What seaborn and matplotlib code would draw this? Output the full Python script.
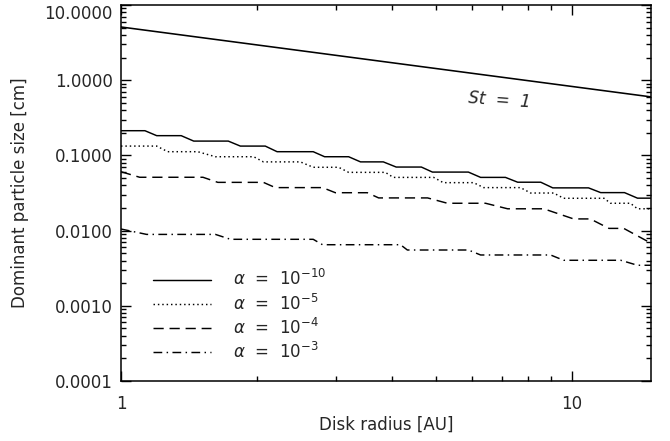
# Dominant particle size vs disk radius for several turbulence strengths

import numpy as np
import pandas as pd
import matplotlib
matplotlib.use('Agg')
import matplotlib.pyplot as plt
import matplotlib.ticker as mticker
import seaborn as sns

sns.set_style('ticks')
plt.rcParams['font.family'] = ['DejaVu Sans']
plt.rcParams['mathtext.fontset'] = 'dejavusans'

# Stokes number = 1 line (straight in log-log)
r_st = [1.0, 15.0]
a_st = [5.1, 0.6]

# alpha = 1e-10 (solid)
r_a10 = [1.00, 1.13, 1.20, 1.36, 1.45, 1.73, 1.84, 2.09, 2.22, 2.67, 2.83, 3.20, 3.40, 3.82,
         4.08, 4.64, 4.91, 5.90, 6.28, 7.13, 7.59, 8.54, 9.08, 10.9, 11.6, 13.1, 14.0, 15.0]
a_a10 = [0.213, 0.213, 0.183, 0.183, 0.155, 0.155, 0.133, 0.133, 0.112, 0.112, 0.096, 0.096,
         0.082, 0.082, 0.070, 0.070, 0.060, 0.060, 0.051, 0.051, 0.044, 0.044, 0.037, 0.037,
         0.032, 0.032, 0.027, 0.027]

# alpha = 1e-5 (dotted)
r_a5 = [1.00, 1.20, 1.27, 1.48, 1.62, 1.97, 2.07, 2.50, 2.67, 3.04, 3.20, 3.86, 4.02, 4.94,
        5.19, 6.06, 6.38, 7.70, 8.11, 9.12, 9.60, 11.8, 12.2, 13.5, 14.0, 15.0]
a_a5 = [0.133, 0.133, 0.112, 0.112, 0.096, 0.096, 0.082, 0.082, 0.0695, 0.0695, 0.0595, 0.0595,
        0.051, 0.051, 0.0434, 0.0434, 0.0373, 0.0373, 0.0316, 0.0316, 0.0269, 0.0269,
        0.0231, 0.0231, 0.0195, 0.0195]

# alpha = 1e-4 (dashed)
r_a4 = [1.00, 1.10, 1.52, 1.64, 2.07, 2.20, 2.80, 2.99, 3.52, 3.73, 4.79, 5.30, 6.44, 7.21,
        8.67, 10.1, 11.0, 12.1, 13.05, 15.0]
a_a4 = [0.0607, 0.0512, 0.0512, 0.0438, 0.0438, 0.0373, 0.0373, 0.0319, 0.0319, 0.0272, 0.0272,
        0.0231, 0.0231, 0.0195, 0.0195, 0.0143, 0.0143, 0.0107, 0.0107, 0.0068]

# alpha = 1e-3 (dash-dot)
r_a3 = [1.00, 1.14, 1.62, 1.75, 2.67, 2.80, 4.17, 4.32, 5.90, 6.28, 8.98, 9.60, 12.85, 14.0, 15.0]
a_a3 = [0.0105, 0.0089, 0.0089, 0.00766, 0.00766, 0.00649, 0.00649, 0.00552, 0.00552,
        0.00474, 0.00474, 0.00403, 0.00403, 0.00346, 0.00346]

series = [
    (r_a10, a_a10, '-', r'$\alpha$  =  10$^{-10}$'),
    (r_a5, a_a5, (0, (1, 2)), r'$\alpha$  =  10$^{-5}$'),
    (r_a4, a_a4, (0, (7, 4)), r'$\alpha$  =  10$^{-4}$'),
    (r_a3, a_a3, (0, (6, 3, 1, 3)), r'$\alpha$  =  10$^{-3}$'),
]

fig = plt.figure(figsize=(6.7, 4.41), dpi=100)
ax = fig.add_axes([121 / 670, 60 / 441, 530 / 670, 376 / 441])

# St = 1 reference line
st_df = pd.DataFrame({'r': r_st, 'a': a_st})
sns.lineplot(data=st_df, x='r', y='a', ax=ax, color='black', lw=1.15, sort=False)

handles = []
for r, a, ls, lab in series:
    df = pd.DataFrame({'r': r, 'a': a})
    sns.lineplot(data=df, x='r', y='a', ax=ax, color='black', lw=1.05,
                 linestyle=ls, sort=False)
    handles.append(ax.lines[-1])

ax.set_xscale('log')
ax.set_yscale('log')
ax.set_xlim(1, 15)
ax.set_ylim(1e-4, 10)

# ticks inward on all four sides
ax.xaxis.set_major_locator(mticker.FixedLocator([1, 10]))
ax.xaxis.set_major_formatter(mticker.FormatStrFormatter('%g'))
ax.xaxis.set_minor_locator(mticker.LogLocator(base=10, subs=np.arange(2, 10)))
ax.xaxis.set_minor_formatter(mticker.NullFormatter())
ax.yaxis.set_major_locator(mticker.LogLocator(base=10, numticks=10))
ax.yaxis.set_major_formatter(mticker.FormatStrFormatter('%.4f'))
ax.yaxis.set_minor_locator(mticker.LogLocator(base=10, subs=np.arange(2, 10), numticks=20))
ax.yaxis.set_minor_formatter(mticker.NullFormatter())
ax.tick_params(which='both', direction='in', top=True, right=True, width=1.0,
               labelsize=12, color='black')
ax.tick_params(which='major', length=7)
ax.tick_params(which='minor', length=3.5)
ax.tick_params(axis='x', which='major', pad=10)
ax.tick_params(axis='y', which='major', pad=6)
for s in ax.spines.values():
    s.set_linewidth(1.1)
    s.set_color('black')

ax.set_xlabel('Disk radius [AU]', fontsize=12, labelpad=2)
ax.set_ylabel('Dominant particle size [cm]', fontsize=12, labelpad=11)

ax.text(6.9, 0.55, 'St  =  1', fontsize=12, style='italic', rotation=-4,
        ha='center', va='center')

ax.legend(handles, [s[3] for s in series], loc='lower left',
          bbox_to_anchor=(0.06, 0.05), frameon=False, fontsize=12,
          handlelength=3.5, handletextpad=1.3, labelspacing=0.25,
          borderpad=0, borderaxespad=0)

# top label sits just below the frame, as in the original
fig.canvas.draw()
for lbl in ax.get_yticklabels():
    if lbl.get_text() == '10.0000':
        lbl.set_va('top')

plt.savefig('out.png', dpi=100)
